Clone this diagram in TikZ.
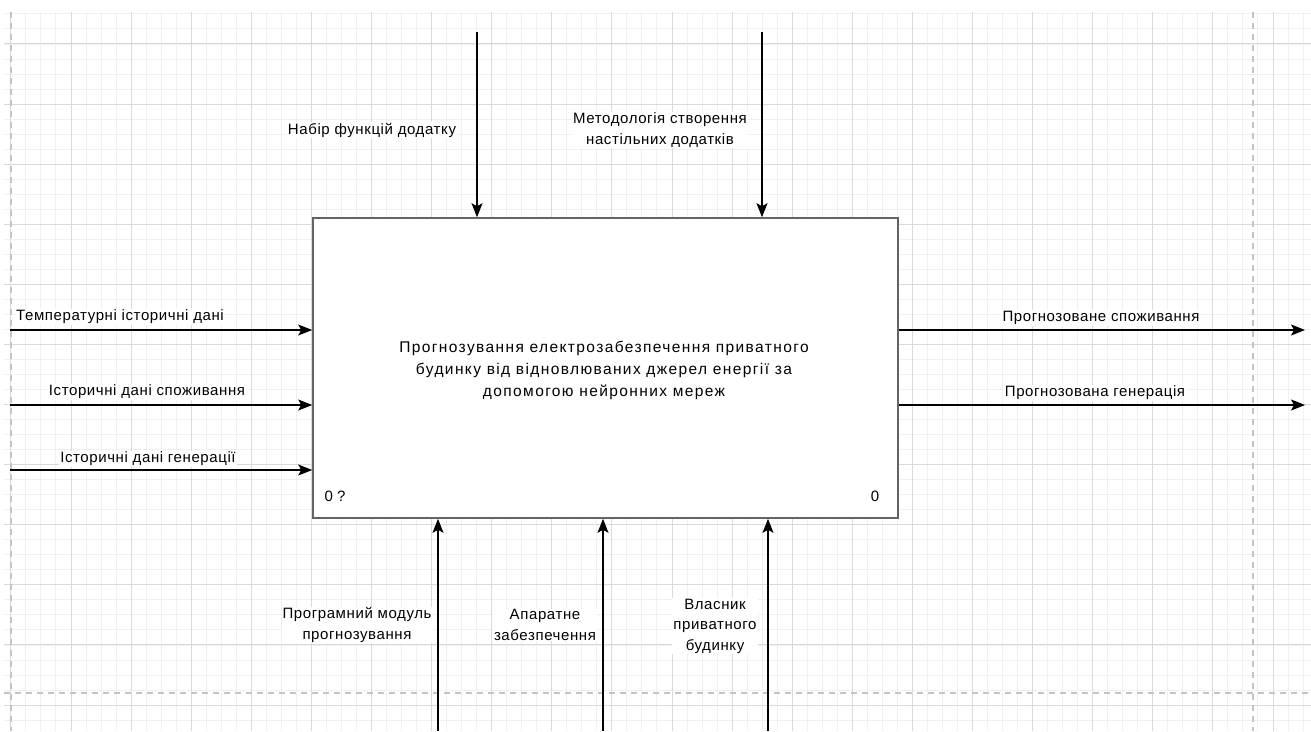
\documentclass[tikz,border=0pt]{standalone}
\usepackage{fontspec}
\setmainfont{Liberation Sans}
\usetikzlibrary{arrows.meta}
\definecolor{gridminor}{RGB}{240,240,240}
\definecolor{gridmajor}{RGB}{218,218,218}
\definecolor{pageline}{RGB}{196,196,196}
\definecolor{boxline}{RGB}{100,100,100}
\newfontfamily\lblfont[LetterSpace=4]{Liberation Sans}
\newfontfamily\mainfont[LetterSpace=9]{Liberation Sans}
\tikzset{
  arr/.style={draw=black, line width=1.2pt, -{Stealth[length=14pt,width=11pt,inset=3pt]}},
  lbl/.style={fill=white, inner sep=1pt, align=center, font=\lblfont\fontsize{15}{20.5}\selectfont},
  mainbox/.style={draw=boxline, line width=1.6pt, fill=white, minimum width=585pt, minimum height=300pt, inner sep=0pt},
  num/.style={inner sep=0pt, font=\fontsize{15}{16}\selectfont},
}
\begin{document}
\begin{tikzpicture}[x=1pt,y=-1pt]
\useasboundingbox (0,0) rectangle (1311,731);
\fill[white] (0,0) rectangle (1311,731);
% grid minor
\foreach \k in {0,...,86} {
  \pgfmathsetmacro\xx{10.9+\k*15.025}
  \draw[gridminor, line width=1pt] (\xx,12) -- (\xx,731);
}
\foreach \k in {0,...,47} {
  \pgfmathsetmacro\yy{13.95+\k*15.025}
  \draw[gridminor, line width=1pt] (4,\yy) -- (1311,\yy);
}
% grid major
\foreach \k in {0,...,21} {
  \pgfmathsetmacro\xx{10.9+\k*60.1}
  \draw[gridmajor, line width=1pt] (\xx,12) -- (\xx,731);
}
\foreach \k in {0,...,11} {
  \pgfmathsetmacro\yy{43.95+\k*60.1}
  \draw[gridmajor, line width=1pt] (4,\yy) -- (1311,\yy);
}
% page break lines
\draw[pageline, line width=1.5pt, dash pattern=on 6pt off 5pt] (11,12) -- (11,731);
\draw[pageline, line width=1.5pt, dash pattern=on 6pt off 5pt] (1253,12) -- (1253,731);
\draw[pageline, line width=1.5pt, dash pattern=on 6pt off 5pt] (4,693) -- (1311,693);

% main box
\node[mainbox] (A) at (605.5,368) {};
\node[align=center, inner sep=0pt, font=\mainfont\fontsize{15.5}{22}\selectfont] (Atext) at (604,370) {Прогнозування електрозабезпечення приватного\\будинку від відновлюваних джерел енергії за\\допомогою нейронних мереж};
\node[num] (n1) at (335,496) {0 ?};
\node[num] (n2) at (875,496) {0};

% top (control) arrows
\coordinate (t1) at (477,32);
\coordinate (t2) at (762,32);
\draw[arr] (t1) -- (t1 |- A.north);
\draw[arr] (t2) -- (t2 |- A.north);
\node[lbl] (lt1) at (372,130) {Набір функцій додатку};
\node[lbl] (lt2) at (660,130) {Методологія створення\\настільних додатків};

% left (input) arrows
\coordinate (i1) at (10,330);
\coordinate (i2) at (10,405);
\coordinate (i3) at (10,470);
\draw[arr] (i1) -- (i1 -| A.west);
\draw[arr] (i2) -- (i2 -| A.west);
\draw[arr] (i3) -- (i3 -| A.west);
\node[lbl] (li1) at (120,317) {Температурні історичні дані};
\node[lbl] (li2) at (147,392) {Історичні дані споживання};
\node[lbl] (li3) at (148,459) {Історичні дані генерації};

% right (output) arrows
\coordinate (o1) at (1305,330);
\coordinate (o2) at (1305,405);
\draw[arr] (o1 -| A.east) -- (o1);
\draw[arr] (o2 -| A.east) -- (o2);
\node[lbl] (lo1) at (1101,318) {Прогнозоване споживання};
\node[lbl] (lo2) at (1095,393) {Прогнозована генерація};

% bottom (mechanism) arrows
\coordinate (m1) at (438,731);
\coordinate (m2) at (603,731);
\coordinate (m3) at (768,731);
\draw[arr] (m1) -- (m1 |- A.south);
\draw[arr] (m2) -- (m2 |- A.south);
\draw[arr] (m3) -- (m3 |- A.south);
\node[lbl] (lm1) at (357,625) {Програмний модуль\\прогнозування};
\node[lbl] (lm2) at (545,625) {Апаратне\\забезпечення};
\node[lbl] (lm3) at (715,626) {Власник\\приватного\\будинку};
\end{tikzpicture}
\end{document}
